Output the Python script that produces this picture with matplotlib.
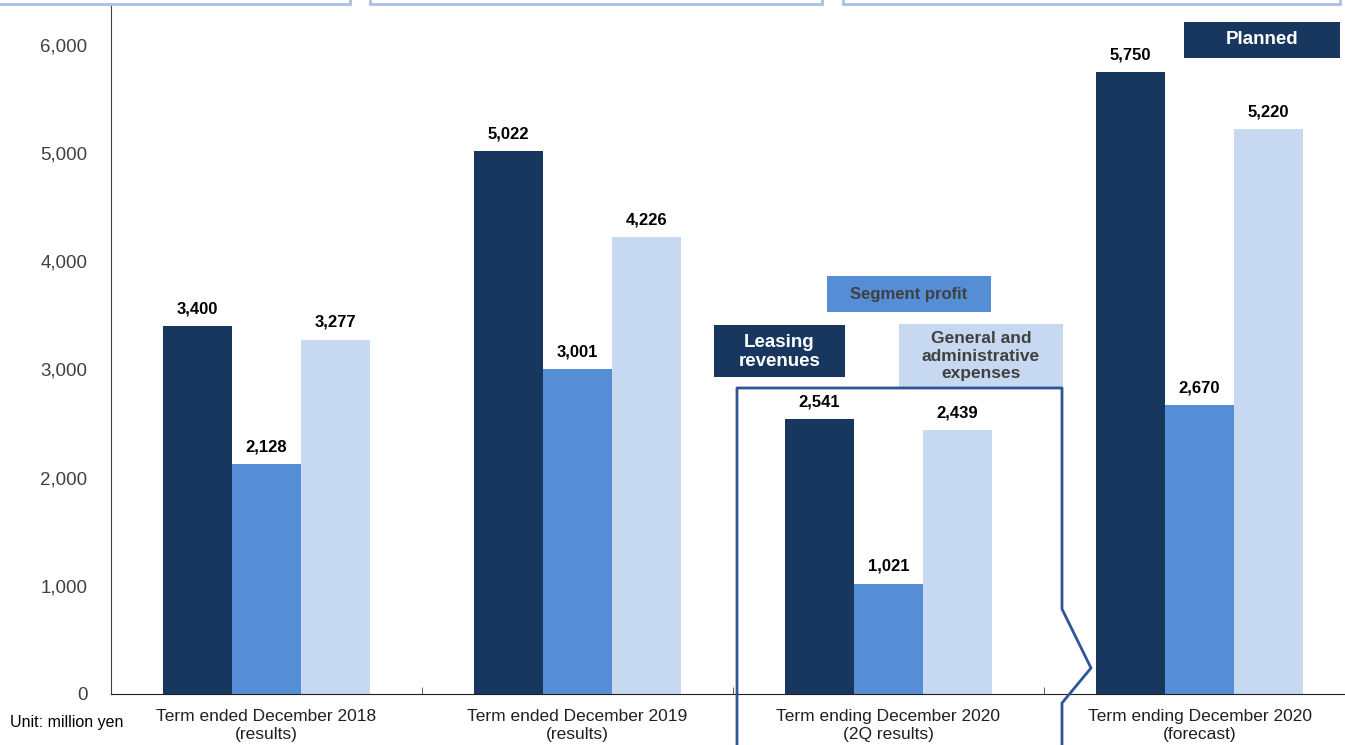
import matplotlib
matplotlib.use('Agg')
import numpy as np
import matplotlib.pyplot as plt
from matplotlib.patches import Rectangle
from matplotlib.lines import Line2D

# data
categories = ["Term ended December 2018\n(results)",
              "Term ended December 2019\n(results)",
              "Term ending December 2020\n(2Q results)",
              "Term ending December 2020\n(forecast)"]
leasing_revenues = [3400, 5022, 2541, 5750]
segment_profit = [2128, 3001, 1021, 2670]
ga_expenses = [3277, 4226, 2439, 5220]

DARK = '#17375e'
MID = '#558ed5'
LIGHT = '#c6d9f1'
LINE = '#2f5597'

W, H = 1345, 745
plt.rcParams['font.family'] = ['Liberation Sans', 'DejaVu Sans']

fig = plt.figure(figsize=(W / 100, H / 100), dpi=100)


def px(x, y):
    return x / W, 1 - y / H


ax = fig.add_axes([111 / W, 51 / H, 1244 / W, 694 / H])

x = np.arange(len(categories))
bw = 0.222
series = [(leasing_revenues, DARK), (segment_profit, MID), (ga_expenses, LIGHT)]
for i, (vals, col) in enumerate(series):
    bars = ax.bar(x + (i - 1) * bw, vals, width=bw, color=col, zorder=2)
    for b, v in zip(bars, vals):
        ax.annotate(f"{v:,}", (b.get_x() + b.get_width() / 2, v),
                    xytext=(0, 7), textcoords='offset points',
                    ha='center', va='bottom', fontsize=12, fontweight='bold',
                    color='black')

ax.set_xlim(-0.5, 3.5)
ax.set_ylim(0, 6416)
ax.set_yticks(range(0, 7000, 1000))
ax.set_yticklabels([f"{v:,}" for v in range(0, 7000, 1000)], fontsize=13.5, color='#404040')
ax.tick_params(axis='y', length=0, pad=17)
ax.set_xticks(x)
ax.set_xticklabels(categories, fontsize=12.5, color='#202020', linespacing=1.25)
ax.tick_params(axis='x', length=0, pad=11)
ax.set_xticks([0.5, 1.5, 2.5], minor=True)
ax.tick_params(axis='x', which='minor', direction='in', length=5, color='#404040')
for s in ['top', 'right']:
    ax.spines[s].set_visible(False)
ax.spines['left'].set_color('#404040')
ax.spines['bottom'].set_color('#202020')

fig.text(*px(10, 723), "Unit: million yen", fontsize=11.5, ha='left', va='center')

# cut-off boxes at the top
for x0, x1 in [(-10, 350), (370, 822), (843, 1340)]:
    fx0, fy0 = px(x0, 4)
    fx1, fy1 = px(x1, -20)
    fig.patches.append(Rectangle((fx0, fy0), fx1 - fx0, fy1 - fy0, transform=fig.transFigure,
                                 facecolor='white', edgecolor='#a9c0e6', lw=2))


def label_box(x0, y0, x1, y1, fc, text, tc, fs, ls=1.0, ty=None):
    fx0, fy1 = px(x0, y1)
    fx1, fy0 = px(x1, y0)
    fig.patches.append(Rectangle((fx0, fy1), fx1 - fx0, fy0 - fy1, transform=fig.transFigure,
                                 facecolor=fc, edgecolor='none'))
    cy = (fy0 + fy1) / 2 if ty is None else px(0, ty)[1]
    fig.text((fx0 + fx1) / 2, cy, text, ha='center', va='center',
             fontsize=fs, fontweight='bold', color=tc, linespacing=ls)


label_box(827, 276, 991, 312, MID, "Segment profit", '#404040', 12)
label_box(714, 325, 845, 377, DARK, "Leasing\nrevenues", 'white', 13.5, 1.15, ty=352)
label_box(899, 324, 1063, 388, LIGHT, "General and\nadministrative\nexpenses", '#404040', 12.5, 1.2, ty=356)
label_box(1184, 22, 1340, 58, DARK, "Planned", 'white', 13.5)

# callout outline around 2Q results
pts = [(737, 760), (737, 388), (1062, 388), (1062, 609), (1091, 668), (1062, 703), (1062, 760)]
xs, ys = zip(*[px(a, b) for a, b in pts])
fig.lines.append(Line2D(xs, ys, transform=fig.transFigure, color=LINE, lw=2))

fig.savefig('out.png', dpi=100)
